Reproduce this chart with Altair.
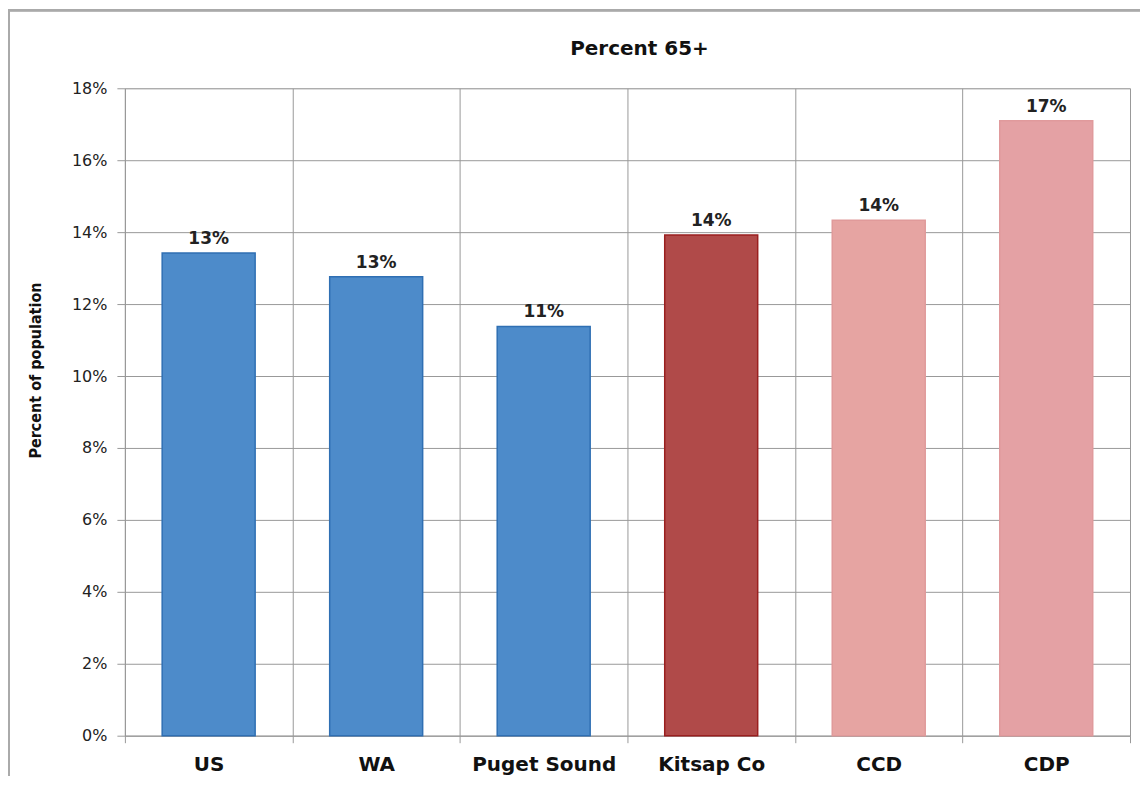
import altair as alt
import pandas as pd

categories = ["US", "WA", "Puget Sound", "Kitsap Co", "CCD", "CDP"]
values = [13.42, 12.76, 11.38, 13.92, 14.33, 17.1]
labels = ["13%", "13%", "11%", "14%", "14%", "17%"]
fills = ["#4d8bca", "#4d8bca", "#4d8bca", "#b04a49", "#e6a4a2", "#e4a1a4"]
strokes = ["#2f6fb3", "#2f6fb3", "#2f6fb3", "#9a1f1f", "#e09a9a", "#e09a9c"]
y_ticks = [0, 2, 4, 6, 8, 10, 12, 14, 16, 18]

df = pd.DataFrame({"cat": categories, "val": values, "lab": labels})

FONT = "DejaVu Sans"

x = alt.X("cat:N", sort=categories, title=None,
          scale=alt.Scale(paddingInner=0, paddingOuter=0),
          axis=alt.Axis(tickBand="extent", labelAngle=0, labelFontSize=20,
                        labelFontWeight="bold", labelColor="#111", labelFont=FONT,
                        labelPadding=12, tickSize=7, tickColor="#999",
                        domainColor="#999", gridColor="#999", grid=True))
y = alt.Y("val:Q", title="Percent of population",
          scale=alt.Scale(domain=[0, 18], nice=False),
          axis=alt.Axis(values=y_ticks, labelExpr="datum.value + '%'",
                        labelFontSize=16, labelColor="#222", labelFont=FONT,
                        tickSize=8, tickColor="#999", labelPadding=10,
                        domainColor="#999", gridColor="#999",
                        titleFontSize=16, titleFontWeight="bold",
                        titleFont="DejaVu Sans Condensed, Open Sans",
                        titleColor="#111", titleX=-81, titleY=282, titleAlign="center",
                        titlePadding=0))

bars = alt.Chart(df).mark_bar(strokeWidth=1.5, width=alt.RelativeBandSize(0.555)).encode(
    x=x, y=y,
    fill=alt.Fill("cat:N", scale=alt.Scale(domain=categories, range=fills), legend=None),
    stroke=alt.Stroke("cat:N", scale=alt.Scale(domain=categories, range=strokes), legend=None),
)

text = alt.Chart(df).mark_text(baseline="bottom", dy=-5, fontSize=17, fontWeight="bold",
                               font=FONT, color="#222").encode(
    x=alt.X("cat:N", sort=categories), y="val:Q", text="lab:N")

frame = alt.Chart(df).mark_rect(fill=None, stroke="#aaaaaa", strokeWidth=2, clip=False).encode(
    x=alt.value(-116), x2=alt.value(1030), y=alt.value(-78), y2=alt.value(700))

chart = alt.layer(frame, bars, text).properties(
    width=1006, height=648,
    title=alt.TitleParams("Percent 65+", fontSize=20, fontWeight="bold", font=FONT,
                          color="#111", offset=-66, baseline="alphabetic",
                          frame="group", dx=12),
    autosize=alt.AutoSizeParams(type="none"),
    padding={"left": 117, "top": 80, "right": 10, "bottom": 40},
).configure_view(stroke=None).configure(background="white")

chart.save("out.html", embed_options={"renderer": "svg", "actions": False})
